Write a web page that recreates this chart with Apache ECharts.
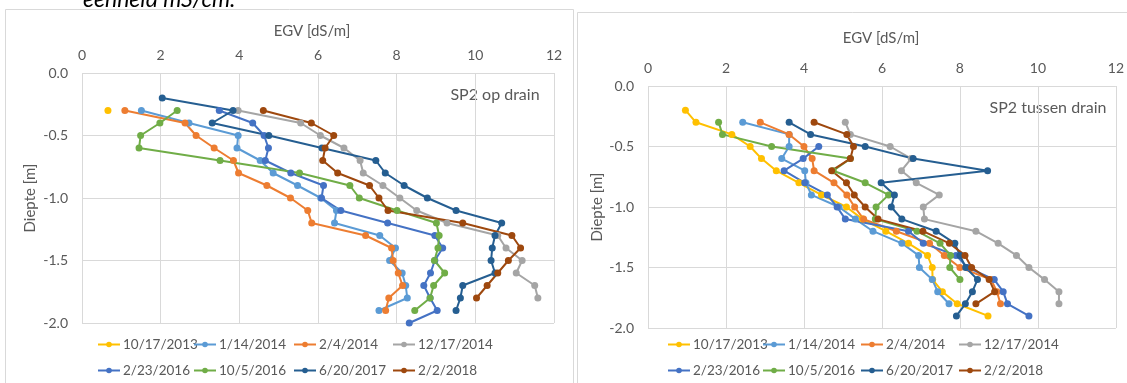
<!DOCTYPE html>
<html><head><meta charset="utf-8">
<script src="https://cdn.jsdelivr.net/npm/echarts@6/dist/echarts.min.js"></script>
<style>html,body{margin:0;padding:0;background:#fff}#c{width:1127px;height:383px}</style>
</head><body><div id="c"></div>
<script>
// depth of each sample (m), index 0 = -0.2 ... index 18 = -2.0
const depths = [-0.2,-0.3,-0.4,-0.5,-0.6,-0.7,-0.8,-0.9,-1.0,-1.1,-1.2,-1.3,-1.4,-1.5,-1.6,-1.7,-1.8,-1.9,-2.0];
const dates = ['10/17/2013','1/14/2014','2/4/2014','12/17/2014','2/23/2016','10/5/2016','6/20/2017','2/2/2018'];
const xTicks = [0,2,4,6,8,10,12];
const yTicks = [0,-0.5,-1,-1.5,-2];

// SP2 op drain — EGV [dS/m] per depth
const op_20131017 = [null,0.66,null,null,null,null,null,null,null,null,null,null,null,null,null,null,null,null,null];
const op_20140114 = [null,1.51,2.72,3.97,3.94,4.53,4.86,5.48,6.07,6.47,6.42,7.57,7.97,7.82,8.14,8.23,8.27,7.55,null];
const op_20140204 = [null,1.09,2.62,2.90,3.36,3.85,3.98,4.70,5.30,5.74,5.84,7.21,7.87,7.91,8.04,8.15,7.80,7.72,null];
const op_20141217 = [null,3.97,5.56,6.06,6.66,7.07,7.15,7.65,8.08,8.51,9.28,10.57,10.78,11.19,11.04,11.51,11.59,null,null];
const op_20160223 = [null,3.49,4.34,4.63,4.74,4.66,5.31,6.14,6.09,6.58,7.77,8.97,9.17,8.97,8.86,8.69,8.85,9.03,8.32];
const op_20161005 = [null,2.42,1.98,1.49,1.45,3.51,5.53,6.81,7.05,8.01,9.01,9.08,9.05,8.96,9.22,8.94,8.85,8.46,null];
const op_20170620 = [2.04,3.84,3.31,4.75,6.10,7.47,7.71,8.19,8.78,9.51,10.67,10.50,10.43,10.40,10.50,9.68,9.62,9.51,null];
const op_20180202 = [null,4.61,5.83,6.40,6.18,6.12,6.50,7.31,7.55,7.78,9.68,10.93,11.15,10.84,10.57,10.30,10.03,null,null];

// SP2 tussen drain — EGV [dS/m] per depth
const tus_20131017 = [0.96,1.23,2.15,2.62,2.91,3.29,3.87,4.45,5.09,5.50,6.10,6.68,7.17,7.29,7.30,7.55,7.93,8.72,null];
const tus_20140114 = [null,2.43,3.62,3.62,3.43,4.02,4.05,4.19,4.90,5.32,5.77,6.51,6.94,6.96,7.29,7.43,7.72,null,null];
const tus_20140204 = [null,2.88,3.62,4.00,4.21,4.26,4.77,5.10,5.30,5.53,6.37,7.22,7.60,8.00,8.80,8.95,9.04,null,null];
const tus_20141217 = [null,5.06,5.19,6.21,6.75,6.50,6.88,7.47,7.06,7.09,8.41,8.98,9.45,9.77,10.17,10.54,10.54,null,null];
const tus_20160223 = [null,null,null,4.38,3.98,3.49,4.02,4.60,4.85,5.06,6.68,7.06,7.90,8.20,8.88,9.11,9.22,9.77,null];
const tus_20161005 = [null,1.81,1.91,3.17,5.19,4.75,5.57,6.17,5.85,5.83,6.90,7.49,7.76,7.74,8.00,null,null,null,null];
const tus_20170620 = [null,3.62,4.17,5.57,6.80,8.71,5.98,6.32,6.24,6.51,7.39,7.87,8.00,8.15,8.45,8.32,8.14,7.91,null];
const tus_20180202 = [null,4.26,5.10,5.27,5.19,4.71,5.09,5.29,5.57,5.90,7.05,7.73,8.13,8.30,8.75,8.89,8.41,null,null];

const colors = ['#FFC000','#5B9BD5','#ED7D31','#A5A5A5','#4472C4','#70AD47','#255E91','#9E480E'];
const opSets = [op_20131017,op_20140114,op_20140204,op_20141217,op_20160223,op_20161005,op_20170620,op_20180202];
const tusSets = [tus_20131017,tus_20140114,tus_20140204,tus_20141217,tus_20160223,tus_20161005,tus_20170620,tus_20180202];

const FONT = 'Lato, "Open Sans", sans-serif';
const TXT = '#595959';

function pts(vals){ const out=[]; vals.forEach((v,k)=>{ if(v!=null) out.push([v, depths[k]]); }); return out; }

const series = [];
[opSets, tusSets].forEach((sets, c) => {
  sets.forEach((vals, i) => {
    series.push({
      name: dates[i], type: 'line', xAxisIndex: c, yAxisIndex: c,
      data: pts(vals), symbol: 'circle', symbolSize: 7, showSymbol: true,
      itemStyle: {color: colors[i]}, lineStyle: {color: colors[i], width: 2},
      emphasis: {disabled: true}, animation: false
    });
  });
});

const grids = [
  {left: 82, top: 73, width: 472, height: 250},
  {left: 648, top: 86, width: 471, height: 242}
];

function xAx(i){ return {gridIndex: i, type: 'value', position: 'top', min: xTicks[0], max: xTicks[xTicks.length-1], interval: 2,
  axisLine: {show: false}, axisTick: {show: false},
  splitLine: {show: true, lineStyle: {color: '#D9D9D9', width: 1}},
  axisLabel: {color: TXT, fontSize: 14, fontFamily: FONT, margin: 11}}; }
function yAx(i){ return {gridIndex: i, type: 'value', min: yTicks[yTicks.length-1], max: yTicks[0], interval: 0.5,
  axisLine: {show: false}, axisTick: {show: false},
  splitLine: {show: true, lineStyle: {color: '#D9D9D9', width: 1}},
  axisLabel: {color: TXT, fontSize: 14, fontFamily: FONT, margin: 14, formatter: v => v.toFixed(1)}}; }

const legendCols = [[97,193,293,392],[667,762,860,958]];
const legends = [];
legendCols.forEach(cols => {
  cols.forEach((x, j) => {
    legends.push({data: [dates[j], dates[j+4]], orient: 'vertical', left: x, top: 336, padding: 0,
      itemWidth: 22, itemHeight: 7, itemGap: 9, selectedMode: false,
      textStyle: {color: TXT, fontSize: 13.5, fontFamily: FONT, lineHeight: 17, padding: [0,0,0,-2]}});
  });
});

const chart = echarts.init(document.getElementById('c'), null, {renderer: 'canvas'});
chart.setOption({
  animation: false,
  backgroundColor: '#fff',
  grid: grids,
  xAxis: [xAx(0), xAx(1)],
  yAxis: [yAx(0), yAx(1)],
  legend: legends,
  series: series,
  graphic: [
    {type: 'rect', shape: {x: 5.5, y: 9.5, width: 568, height: 400}, style: {fill: 'none', stroke: '#D9D9D9', lineWidth: 1}, silent: true},
    {type: 'rect', shape: {x: 577.5, y: 12.5, width: 560, height: 400}, style: {fill: 'none', stroke: '#D9D9D9', lineWidth: 1}, silent: true},
    {type: 'text', left: 83, top: -12, style: {text: 'eenheid mS/cm.', font: 'italic 23px ' + FONT, fill: '#000'}},
    {type: 'text', x: 312, y: 31, style: {text: 'EGV [dS/m]', font: '15px ' + FONT, fill: TXT, align: 'center', verticalAlign: 'middle'}},
    {type: 'text', x: 881, y: 38, style: {text: 'EGV [dS/m]', font: '15px ' + FONT, fill: TXT, align: 'center', verticalAlign: 'middle'}},
    {type: 'text', x: 30, y: 198, rotation: Math.PI/2, style: {text: 'Diepte [m]', font: '15px ' + FONT, fill: TXT, align: 'center', verticalAlign: 'middle'}},
    {type: 'text', x: 597, y: 207, rotation: Math.PI/2, style: {text: 'Diepte [m]', font: '15px ' + FONT, fill: TXT, align: 'center', verticalAlign: 'middle'}},
    {type: 'text', x: 495, y: 95, style: {text: 'SP2 op drain', font: '16px ' + FONT, fill: TXT, align: 'center', verticalAlign: 'middle'}},
    {type: 'text', x: 1048, y: 108, style: {text: 'SP2 tussen drain', font: '16px ' + FONT, fill: TXT, align: 'center', verticalAlign: 'middle'}}
  ]
});
</script></body></html>
